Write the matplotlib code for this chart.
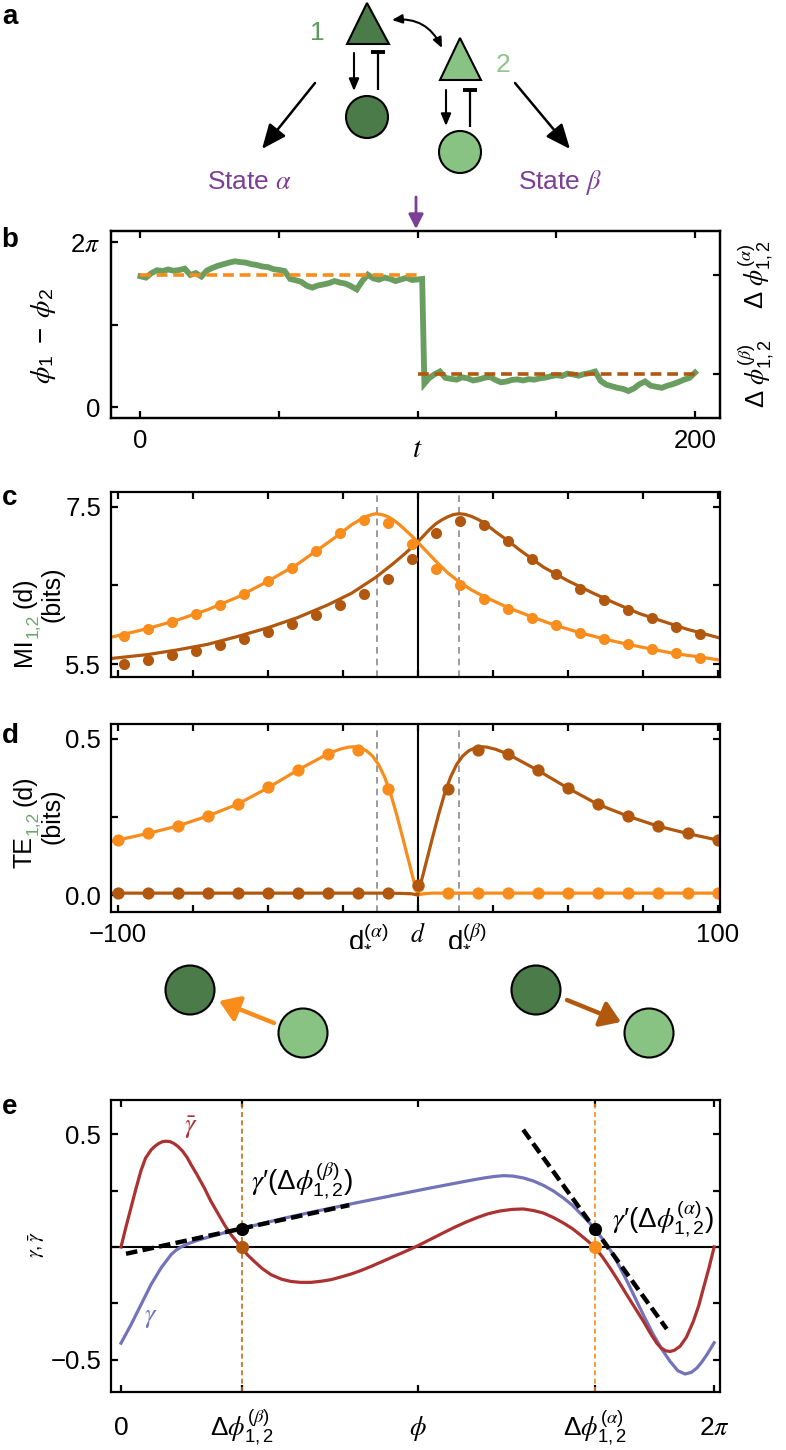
import numpy as np
import matplotlib.pyplot as plt
from matplotlib.patches import Polygon, Circle

plt.rcParams['font.family'] = ['Liberation Sans', 'DejaVu Sans']
plt.rcParams['mathtext.fontset'] = 'custom'
plt.rcParams['mathtext.rm'] = 'Liberation Sans'
plt.rcParams['mathtext.it'] = 'STIXGeneral:italic'
plt.rcParams['mathtext.bf'] = 'Liberation Sans:bold'

# ---------------- colours ----------------
ORANGE = '#f98c1a'
BROWN = '#b2580e'
TRACE = '#6a9e60'
RED = '#ac3232'
BLUE = '#7373ba'
DARK_GREEN = '#4a7b49'
LIGHT_GREEN = '#89c383'
LABEL_GREEN = '#6aa86a'
PURPLE = '#7d3e97'
GRAY = '#8a8a8a'

TICK_FS = 18.5

# ---------------- data: panel b ----------------
DPHI_ALPHA = 5.017
DPHI_BETA = 1.277
T_SWITCH = 100
T_END = 200
T_TRACE = list(np.arange(0, 101, 2)) + [101.6, 102.4] + list(np.arange(104, 201, 2))
PHASE_DIFF = [4.98, 4.93, 5.10, 5.21, 5.18, 5.24, 5.19, 5.22, 5.27, 5.03,
              5.10, 4.97, 5.20, 5.30, 5.38, 5.44, 5.50, 5.55, 5.52, 5.50,
              5.44, 5.41, 5.35, 5.33, 5.25, 5.22, 5.18, 4.88, 4.83, 4.77,
              4.62, 4.55, 4.63, 4.67, 4.72, 4.80, 4.74, 4.70, 4.60, 4.48,
              4.80, 5.04, 4.90, 4.85, 4.93, 4.88, 4.80, 4.86, 4.92, 4.84,
              4.86,
              4.88, 0.90,
              1.10, 1.25, 1.36, 1.12, 1.08, 1.05, 1.14, 1.10, 1.02, 1.06,
              1.12, 1.16, 1.04, 0.95, 0.98, 1.04, 1.06, 1.02, 1.07, 1.05,
              1.10, 1.13, 1.18, 1.22, 1.19, 1.28, 1.25, 1.20, 1.26, 1.30,
              1.36, 1.00, 0.86, 0.80, 0.74, 0.70, 0.62, 0.72, 0.88, 0.98,
              0.82, 0.78, 0.74, 0.82, 0.88, 0.96, 1.05, 1.12, 1.32]

# ---------------- data: panel c (mutual information) ----------------
D_STAR = 13.7
MI_D = np.arange(-98, 95, 8)
MI_ORANGE = [5.86, 5.95, 6.04, 6.13, 6.25, 6.39, 6.55, 6.72, 6.94, 7.17, 7.33, 7.29, 7.02,
             6.71, 6.50, 6.33, 6.20, 6.09, 5.99, 5.90, 5.82, 5.75, 5.69, 5.64, 5.58]
MI_BROWN = [5.50, 5.55, 5.61, 5.67, 5.74, 5.82, 5.91, 6.01, 6.12, 6.25, 6.39, 6.58, 6.84,
            7.17, 7.32, 7.27, 7.06, 6.83, 6.64, 6.45, 6.31, 6.19, 6.08, 5.97, 5.88]
MI_ORANGE_FIT_D = [-102.2, -90, -80, -70, -60, -50, -40, -30, -26, -22, -18, -16, -14, -12, -10,
                   -8, -6, -4, -2, 0, 2, 4, 6, 10, 14, 18, 22, 30, 38, 46, 54, 62, 70, 78, 86,
                   94, 100.8]
MI_ORANGE_FIT = [5.84, 5.95, 6.06, 6.19, 6.35, 6.55, 6.77, 7.04, 7.15, 7.27, 7.36, 7.39, 7.41,
                 7.40, 7.375, 7.33, 7.27, 7.20, 7.13, 7.05, 6.97, 6.89, 6.81, 6.66, 6.54, 6.44,
                 6.36, 6.22, 6.10, 5.99, 5.90, 5.82, 5.75, 5.69, 5.63, 5.59, 5.55]
MI_BROWN_FIT_D = [-102.2, -90, -80, -70, -60, -50, -40, -30, -22, -14, -8, -4, -2, 0, 2, 4, 6,
                  8, 10, 12, 14, 16, 18, 20, 22, 26, 30, 34, 42, 50, 58, 66, 74, 82, 90, 100.8]
MI_BROWN_FIT = [5.57, 5.62, 5.68, 5.75, 5.85, 5.96, 6.09, 6.25, 6.40, 6.60, 6.78, 6.91, 6.98,
                7.05, 7.13, 7.21, 7.28, 7.33, 7.37, 7.40, 7.41, 7.40, 7.375, 7.34, 7.30, 7.18,
                7.07, 6.95, 6.73, 6.56, 6.41, 6.27, 6.14, 6.04, 5.94, 5.83]

# ---------------- data: panel d (transfer entropy) ----------------
TE_D = np.arange(-100, 101, 10)
TE_ORANGE = [0.177, 0.198, 0.222, 0.254, 0.292, 0.346, 0.401, 0.453, 0.466, 0.339, 0.030,
             0.006, 0.006, 0.006, 0.006, 0.006, 0.006, 0.006, 0.006, 0.006, 0.006]
TE_BROWN = [0.006, 0.006, 0.006, 0.006, 0.006, 0.006, 0.006, 0.006, 0.006, 0.006, 0.032,
            0.339, 0.466, 0.453, 0.401, 0.343, 0.292, 0.254, 0.222, 0.198, 0.175]
TE_ORANGE_FIT_D = [-102.2, -100, -90, -80, -70, -60, -50, -40, -30, -26, -23, -21, -19, -17,
                   -15, -13, -11, -9, -7, -5, -3, -2, -1, 0, 1, 2, 5, 10, 30, 60, 100.8]
TE_ORANGE_FIT = [0.172, 0.176, 0.197, 0.221, 0.253, 0.291, 0.343, 0.400, 0.452, 0.467, 0.474,
                 0.475, 0.471, 0.462, 0.445, 0.418, 0.378, 0.325, 0.258, 0.185, 0.110, 0.072,
                 0.035, 0.000, 0.002, 0.004, 0.006, 0.006, 0.006, 0.006, 0.006]
TE_BROWN_FIT_D = [-102.2, -60, -20, -10, -5, -2, -1, 0, 1, 2, 3, 5, 7, 9, 11, 13, 15, 17, 19,
                  21, 23, 26, 30, 40, 50, 60, 70, 80, 90, 100, 100.8]
TE_BROWN_FIT = [0.006, 0.006, 0.006, 0.006, 0.005, 0.004, 0.002, 0.000, 0.035, 0.072, 0.110,
                0.185, 0.258, 0.325, 0.378, 0.418, 0.445, 0.462, 0.471, 0.475, 0.474, 0.467,
                0.452, 0.400, 0.343, 0.291, 0.253, 0.221, 0.197, 0.176, 0.174]

# ---------------- data: panel e (coupling functions) ----------------
GBAR_PHI = [0, 0.05, 0.106, 0.16, 0.212, 0.26, 0.32, 0.36, 0.40, 0.44, 0.48, 0.52, 0.56, 0.60,
            0.65, 0.70, 0.742, 0.80, 0.883, 0.95, 1.024, 1.10, 1.165, 1.271, 1.34, 1.412, 1.50,
            1.589, 1.70, 1.80, 1.90, 2.013, 2.12, 2.225, 2.33, 2.437, 2.55, 2.65, 2.77, 2.895,
            3.02, 3.1416, 3.273, 3.40, 3.52, 3.65, 3.768, 3.89, 4.015, 4.14, 4.26, 4.37, 4.474,
            4.58, 4.685, 4.78, 4.862, 4.94, 5.016, 5.10, 5.18, 5.27, 5.357, 5.45, 5.534, 5.61,
            5.675, 5.72, 5.77, 5.816, 5.86, 5.922, 5.99, 6.063, 6.12, 6.17, 6.23, 6.283]
GBAR = [0.0, 0.085, 0.175, 0.262, 0.340, 0.395, 0.432, 0.448, 0.460, 0.468, 0.470, 0.468,
        0.460, 0.448, 0.427, 0.398, 0.366, 0.325, 0.262, 0.205, 0.151, 0.096, 0.055, 0.0,
        -0.035, -0.064, -0.097, -0.123, -0.143, -0.153, -0.157, -0.157, -0.152, -0.145,
        -0.133, -0.120, -0.103, -0.086, -0.064, -0.041, -0.018, 0.005, 0.033, 0.060, 0.085,
        0.110, 0.130, 0.148, 0.160, 0.167, 0.169, 0.162, 0.151, 0.131, 0.107, 0.082, 0.055,
        0.028, 0.0, -0.044, -0.093, -0.152, -0.212, -0.274, -0.330, -0.385, -0.427, -0.448,
        -0.461, -0.464, -0.459, -0.441, -0.400, -0.330, -0.260, -0.182, -0.090, 0.0]
GAMMA_PHI = [0, 0.106, 0.212, 0.318, 0.424, 0.53, 0.58, 0.636, 0.70, 0.777, 0.86, 0.953, 1.10,
             1.271, 1.5, 1.75, 2.0, 2.25, 2.5, 2.75, 3.0, 3.25, 3.5, 3.7, 3.85, 3.95, 4.05,
             4.15, 4.26, 4.37, 4.474, 4.58, 4.685, 4.78, 4.862, 4.94, 5.016, 5.08, 5.147, 5.22,
             5.288, 5.37, 5.463, 5.55, 5.64, 5.73, 5.816, 5.90, 5.975, 6.04, 6.099, 6.15,
             6.205, 6.25, 6.283]
GAMMA = [-0.427, -0.345, -0.256, -0.167, -0.093, -0.034, -0.015, 0.0, 0.013, 0.025, 0.036,
         0.047, 0.064, 0.081, 0.105, 0.130, 0.153, 0.175, 0.197, 0.218, 0.239, 0.260, 0.280,
         0.296, 0.307, 0.313, 0.317, 0.315, 0.307, 0.293, 0.274, 0.249, 0.218, 0.186, 0.151,
         0.118, 0.081, 0.047, 0.010, -0.038, -0.093, -0.160, -0.241, -0.316, -0.390, -0.455,
         -0.508, -0.550, -0.564, -0.557, -0.538, -0.512, -0.479, -0.448, -0.425]
GAMMA_AT_FIXED = 0.081
TANGENT_BETA_PHI = [0.053, 2.418]
TANGENT_BETA = [-0.030, 0.186]
TANGENT_ALPHA_PHI = [4.26, 5.781]
TANGENT_ALPHA = [0.521, -0.364]

# ---------------- layout helpers ----------------
W, H = 786, 1450
fig = plt.figure(figsize=(W / 100, H / 100), dpi=100)


def px_rect(left, top, right, bottom):
    return [left / W, 1 - bottom / H, (right - left) / W, (bottom - top) / H]


def style(ax, pad=7):
    for s in ax.spines.values():
        s.set_linewidth(1.6)
    ax.tick_params(direction='in', length=5, width=1.6, labelsize=TICK_FS, pad=pad,
                   top=True, right=True)


ax_b = fig.add_axes(px_rect(111, 230.7, 720, 418))
ax_c = fig.add_axes(px_rect(111, 492, 720, 677))
ax_d = fig.add_axes(px_rect(111, 724, 720, 911.7))
ax_e = fig.add_axes(px_rect(111, 1100, 720, 1392))

ov = fig.add_axes([0, 0, 1, 1], zorder=10)
ov.set_xlim(0, W)
ov.set_ylim(H, 0)
ov.axis('off')

# ---------------- panel b ----------------
style(ax_b, pad=8)
ax_b.plot(T_TRACE, PHASE_DIFF, color=TRACE, lw=4.2, solid_joinstyle='miter')
ax_b.plot([0, T_SWITCH], [DPHI_ALPHA, DPHI_ALPHA], color=ORANGE, lw=2.6, dashes=(3, 1.6))
ax_b.plot([T_SWITCH, T_END], [DPHI_BETA, DPHI_BETA], color=BROWN, lw=2.6, dashes=(3, 1.6))
ax_b.set_xlim(-10.6, 209)
ax_b.set_ylim(-0.407, 6.713)
ax_b.set_xticks([0, 50, 100, 150, 200])
ax_b.set_xticklabels(['0', '', '', '', '200'])
ax_b.set_yticks([0, np.pi, 2 * np.pi])
ax_b.set_yticklabels(['0', '', r'$2\pi$'])
ax_b.tick_params(right=False)
ax_b.annotate('$t$', xy=(100, 0), xycoords=('data', 'axes fraction'), xytext=(0, -28),
              textcoords='offset points', ha='center', va='baseline', fontsize=21)
tw = ax_b.twinx()
tw.set_ylim(ax_b.get_ylim())
for s in tw.spines.values():
    s.set_linewidth(1.6)
tw.set_yticks([DPHI_BETA, DPHI_ALPHA])
tw.set_yticklabels([r'$\Delta\ \phi^{(\beta)}_{1,2}$', r'$\Delta\ \phi^{(\alpha)}_{1,2}$'],
                   rotation=90, va='center')
tw.tick_params(direction='in', length=5, width=1.6, labelsize=18.5, pad=12)
ov.text(44, 336, r'$\phi_1\ -\ \phi_2$', rotation=90, ha='center', va='center', fontsize=20)

# ---------------- panel c ----------------
style(ax_c)
ax_c.axvline(0, color='black', lw=1.5)
for xv in (-D_STAR, D_STAR):
    ax_c.axvline(xv, color=GRAY, lw=1.2, dashes=(4, 3))
ax_c.plot(MI_BROWN_FIT_D, MI_BROWN_FIT, color=BROWN, lw=2.3)
ax_c.plot(MI_ORANGE_FIT_D, MI_ORANGE_FIT, color=ORANGE, lw=2.3)
ax_c.plot(MI_D, MI_BROWN, 'o', color=BROWN, ms=8, mew=0)
ax_c.plot(MI_D, MI_ORANGE, 'o', color=ORANGE, ms=8, mew=0)
ax_c.set_xlim(-102.2, 100.8)
ax_c.set_ylim(5.335, 7.686)
ax_c.set_xticks(np.arange(-100, 101, 25))
ax_c.set_xticklabels([])
ax_c.set_yticks([5.5, 6.5, 7.5])
ax_c.set_yticklabels(['5.5', '', '7.5'])

# ---------------- panel d ----------------
style(ax_d, pad=8)
ax_d.axvline(0, color='black', lw=1.5)
for xv in (-D_STAR, D_STAR):
    ax_d.axvline(xv, color=GRAY, lw=1.2, dashes=(4, 3))
ax_d.plot(TE_ORANGE_FIT_D, TE_ORANGE_FIT, color=ORANGE, lw=2.3)
ax_d.plot(TE_BROWN_FIT_D, TE_BROWN_FIT, color=BROWN, lw=2.3)
ax_d.plot(TE_D, TE_ORANGE, 'o', color=ORANGE, ms=8.8, mew=0)
ax_d.plot(TE_D, TE_BROWN, 'o', color=BROWN, ms=8.8, mew=0)
ax_d.set_xlim(-102.2, 100.8)
ax_d.set_ylim(-0.0535, 0.548)
ax_d.set_xticks(np.arange(-100, 101, 25))
ax_d.set_xticklabels(['\u2212100', '', '', '', '$d$', '', '', '', '100'])
ax_d.set_yticks([0, 0.25, 0.5])
ax_d.set_yticklabels(['0.0', '', '0.5'])
ax_d.tick_params(axis='y', pad=7)
for xv, lab in ((-16.5, r'$\mathrm{d}_{*}^{(\alpha)}$'), (16.5, r'$\mathrm{d}_{*}^{(\beta)}$')):
    ax_d.annotate(lab, xy=(xv, 0), xycoords=('data', 'axes fraction'), xytext=(0, -10),
                  textcoords='offset points', ha='center', va='top', fontsize=20)


def stacked_label(x, y_bottom, main, sub, tail, fs=18):
    t1 = ov.text(x, y_bottom, main, rotation=90, ha='center', va='bottom', fontsize=fs)
    t2 = ov.annotate(sub, xy=(1, 1), xycoords=t1, xytext=(3, 0.5), textcoords='offset points',
                     rotation=90, ha='right', va='bottom', fontsize=fs * 0.7, color=LABEL_GREEN)
    ov.annotate(tail, xy=(0.5, 1), xycoords=(t1, t2), xytext=(0, 4), textcoords='offset points',
                rotation=90, ha='center', va='bottom', fontsize=fs)


stacked_label(24, 666, 'MI', '1,2', '(d)')
ov.text(53, 594, '(bits)', rotation=90, ha='center', va='center', fontsize=18)
stacked_label(24, 868, 'TE', '1,2', '(d)')
ov.text(53, 816, '(bits)', rotation=90, ha='center', va='center', fontsize=18)

# ---------------- panel e ----------------
style(ax_e)
ax_e.axhline(0, color='black', lw=1.5)
ax_e.axvline(DPHI_BETA, color='#c86a1e', lw=1.2, dashes=(3, 2))
ax_e.axvline(DPHI_ALPHA, color=ORANGE, lw=1.2, dashes=(3, 2))
ax_e.plot(GAMMA_PHI, GAMMA, color=BLUE, lw=2.3)
ax_e.plot(GBAR_PHI, GBAR, color=RED, lw=2.3)
ax_e.plot(TANGENT_BETA_PHI, TANGENT_BETA, color='black', lw=3.2, dashes=(2.6, 1.2))
ax_e.plot(TANGENT_ALPHA_PHI, TANGENT_ALPHA, color='black', lw=3.2, dashes=(2.6, 1.2))
ax_e.plot([DPHI_BETA, DPHI_ALPHA], [GAMMA_AT_FIXED, GAMMA_AT_FIXED], 'o', color='black', ms=9.5, mew=0)
ax_e.plot([DPHI_BETA], [0], 'o', color=BROWN, ms=9.5, mew=0)
ax_e.plot([DPHI_ALPHA], [0], 'o', color=ORANGE, ms=9.5, mew=0)
ax_e.set_xlim(-0.106, 6.345)
ax_e.set_ylim(-0.644, 0.653)
ax_e.set_xticks([0, DPHI_BETA, np.pi, DPHI_ALPHA, 2 * np.pi])
ax_e.set_xticklabels([])
ax_e.set_yticks([-0.5, -0.25, 0, 0.25, 0.5])
ax_e.set_yticklabels(['\u22120.5', '', '', '', '0.5'])
for xv, lab in ((0, '0'), (DPHI_BETA, r'$\Delta\phi^{(\beta)}_{1,2}$'), (np.pi, r'$\phi$'),
                (DPHI_ALPHA, r'$\Delta\phi^{(\alpha)}_{1,2}$'), (2 * np.pi, r'$2\pi$')):
    ax_e.annotate(lab, xy=(xv, 0), xycoords=('data', 'axes fraction'), xytext=(0, -31),
                  textcoords='offset points', ha='center', va='baseline', fontsize=19)
ax_e.text(0.74, 0.53, r'$\bar{\gamma}$', color=RED, fontsize=19, ha='center', va='center')
ax_e.text(0.32, -0.316, r'$\gamma$', color=BLUE, fontsize=19, ha='center', va='center')
ax_e.text(1.377, 0.293, "$\\gamma$\u2032($\\Delta\\phi^{(\\beta)}_{1,2}$)", fontsize=20,
          ha='left', va='center')
ax_e.text(5.198, 0.121, "$\\gamma$\u2032($\\Delta\\phi^{(\\alpha)}_{1,2}$)", fontsize=20,
          ha='left', va='center')
ov.text(37, 1245, r'$\gamma,\bar{\gamma}$', rotation=90, ha='center', va='center', fontsize=14)

# ---------------- panel a: schematic ----------------
ov.add_patch(Polygon([[367, 3], [347, 44], [389, 44]], closed=True, fc=DARK_GREEN, ec='black', lw=1.5))
ov.add_patch(Polygon([[460, 38], [440, 80], [481, 80]], closed=True, fc=LIGHT_GREEN, ec='black', lw=1.5))
ov.add_patch(Circle((367, 117), 21, fc=DARK_GREEN, ec='black', lw=1.5))
ov.add_patch(Circle((460, 152), 21, fc=LIGHT_GREEN, ec='black', lw=1.5))
ov.text(317, 33, '1', color='#5b9a5b', fontsize=19, ha='center', va='center')
ov.text(503, 65, '2', color='#8cc68a', fontsize=19, ha='center', va='center')

small_head = dict(arrowstyle='-|>,head_length=0.6,head_width=0.25', mutation_scale=12,
                  color='black', lw=1.5, shrinkA=0, shrinkB=0)
big_head = dict(arrowstyle='-|>,head_length=0.75,head_width=0.32', mutation_scale=20,
                color='black', lw=1.8, shrinkA=0, shrinkB=0)
ov.annotate('', xy=(354, 91), xytext=(354, 53), arrowprops=small_head)
ov.annotate('', xy=(446, 126), xytext=(446, 90), arrowprops=small_head)
for x0, y0, y1 in ((378, 52, 90), (470, 90, 127)):
    ov.plot([x0, x0], [y0, y1], color='black', lw=1.6, solid_capstyle='butt')
    ov.plot([x0 - 7, x0 + 7], [y0, y0], color='black', lw=2.8, solid_capstyle='butt')
ov.annotate('', xy=(262, 149), xytext=(315, 83), arrowprops=big_head)
ov.annotate('', xy=(570, 149), xytext=(515, 83), arrowprops=big_head)
ov.annotate('', xy=(442, 48), xytext=(392, 20),
            arrowprops=dict(arrowstyle='<|-|>,head_length=0.5,head_width=0.22', mutation_scale=12,
                            color='black', lw=1.5, shrinkA=0, shrinkB=0,
                            connectionstyle='arc3,rad=-0.35'))
ov.text(250, 182, r'State $\alpha$', color=PURPLE, fontsize=19, ha='center', va='center')
ov.text(560, 182, r'State $\beta$', color=PURPLE, fontsize=19, ha='center', va='center')
ov.annotate('', xy=(416, 229), xytext=(416, 197),
            arrowprops=dict(arrowstyle='-|>,head_length=0.55,head_width=0.28', mutation_scale=16,
                            color=PURPLE, lw=2, shrinkA=0, shrinkB=0))

# ---------------- interaction sketch between d and e ----------------
for cx, cy, col in ((190, 990, DARK_GREEN), (303, 1033, LIGHT_GREEN),
                    (536, 990, DARK_GREEN), (649, 1033, LIGHT_GREEN)):
    ov.add_patch(Circle((cx, cy), 24.5, fc=col, ec='black', lw=1.5))
thick = dict(arrowstyle='-|>,head_length=0.6,head_width=0.4', mutation_scale=20, lw=3.2,
             shrinkA=0, shrinkB=0)
ov.annotate('', xy=(219, 1001), xytext=(274, 1023), arrowprops=dict(color=ORANGE, **thick))
ov.annotate('', xy=(621, 1022), xytext=(567, 1000), arrowprops=dict(color=BROWN, **thick))

# ---------------- panel letters ----------------
for lab, yy in (('a', 17), ('b', 240), ('c', 498), ('d', 736), ('e', 1107)):
    ov.text(10, yy, lab, fontsize=20, fontweight='bold', ha='center', va='center')

fig.savefig('out.png', dpi=100)
